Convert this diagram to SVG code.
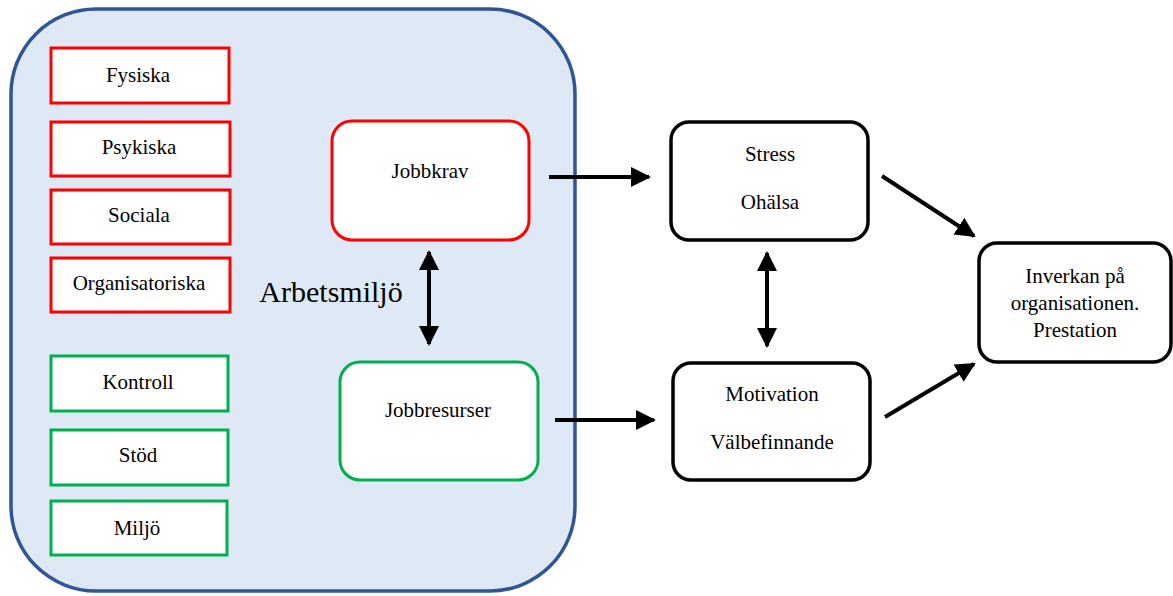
<svg xmlns="http://www.w3.org/2000/svg" width="1173" height="596" viewBox="0 0 1173 596">
<style>
.t{font-family:"Liberation Serif","Times New Roman",serif;font-size:21px;fill:#000;text-anchor:middle}
.red{fill:#fff;stroke:#ff0000;stroke-width:3}
.green{fill:#fff;stroke:#00b050;stroke-width:3}
.blk{fill:#fff;stroke:#000;stroke-width:3.5}
.c{stroke:#000;stroke-width:4;fill:none}
</style>
<defs>
<marker id="ah" viewBox="0 0 10 10" refX="9" refY="5" markerWidth="5" markerHeight="5" orient="auto-start-reverse" markerUnits="strokeWidth">
<path d="M0,0 L10,5 L0,10 z" fill="#000"/>
</marker>
</defs>
<g id="container">
<rect x="11" y="9" width="564" height="582" rx="85" fill="#dee9f5" stroke="#2f5597" stroke-width="3.5"/>
<text x="331" y="302" style="font-family:'Liberation Serif','Times New Roman',serif;font-size:30px;text-anchor:middle">Arbetsmiljö</text>
</g>
<g id="fysiska"><rect class="red" x="51" y="48" width="178" height="55"/><text class="t" x="138" y="82">Fysiska</text></g>
<g id="psykiska"><rect class="red" x="51" y="122" width="179" height="54"/><text class="t" x="139" y="154">Psykiska</text></g>
<g id="sociala"><rect class="red" x="51" y="190" width="179" height="54"/><text class="t" x="139" y="222">Sociala</text></g>
<g id="organisatoriska"><rect class="red" x="51" y="258" width="179" height="54"/><text class="t" x="139" y="290">Organisatoriska</text></g>
<g id="kontroll"><rect class="green" x="51" y="356" width="177" height="55"/><text class="t" x="138" y="389">Kontroll</text></g>
<g id="stod"><rect class="green" x="51" y="430" width="177" height="55"/><text class="t" x="138" y="462">Stöd</text></g>
<g id="miljo"><rect class="green" x="51" y="501" width="176" height="54"/><text class="t" x="137" y="535">Miljö</text></g>
<g id="jobbkrav"><rect class="red" x="332" y="121" width="197" height="119" rx="20" stroke-width="3.5"/><text class="t" x="430" y="178">Jobbkrav</text></g>
<g id="jobbresurser"><rect class="green" x="340" y="362" width="198" height="118" rx="20" stroke-width="3.5"/><text class="t" x="438" y="417">Jobbresurser</text></g>
<g id="stress"><rect class="blk" x="671" y="122" width="197" height="118" rx="18"/><text class="t" x="770" y="161">Stress</text><text class="t" x="770" y="209">Ohälsa</text></g>
<g id="motivation"><rect class="blk" x="673" y="363" width="197" height="117" rx="18"/><text class="t" x="772" y="401">Motivation</text><text class="t" x="772" y="449">Välbefinnande</text></g>
<g id="inverkan"><rect class="blk" x="979" y="243" width="192" height="119" rx="18"/><text class="t" x="1075" y="283">Inverkan på</text><text class="t" x="1075" y="310">organisationen.</text><text class="t" x="1075" y="337">Prestation</text></g>
<g id="connectors">
<line class="c" x1="429" y1="252" x2="429" y2="344" marker-start="url(#ah)" marker-end="url(#ah)"/>
<line class="c" x1="549" y1="177" x2="649" y2="177" marker-end="url(#ah)"/>
<line class="c" x1="555" y1="420" x2="654" y2="420" marker-end="url(#ah)"/>
<line class="c" x1="767" y1="253" x2="767" y2="346" marker-start="url(#ah)" marker-end="url(#ah)"/>
<line class="c" x1="882" y1="176" x2="974" y2="236" marker-end="url(#ah)"/>
<line class="c" x1="885" y1="417" x2="974" y2="364" marker-end="url(#ah)"/>
</g>
</svg>
